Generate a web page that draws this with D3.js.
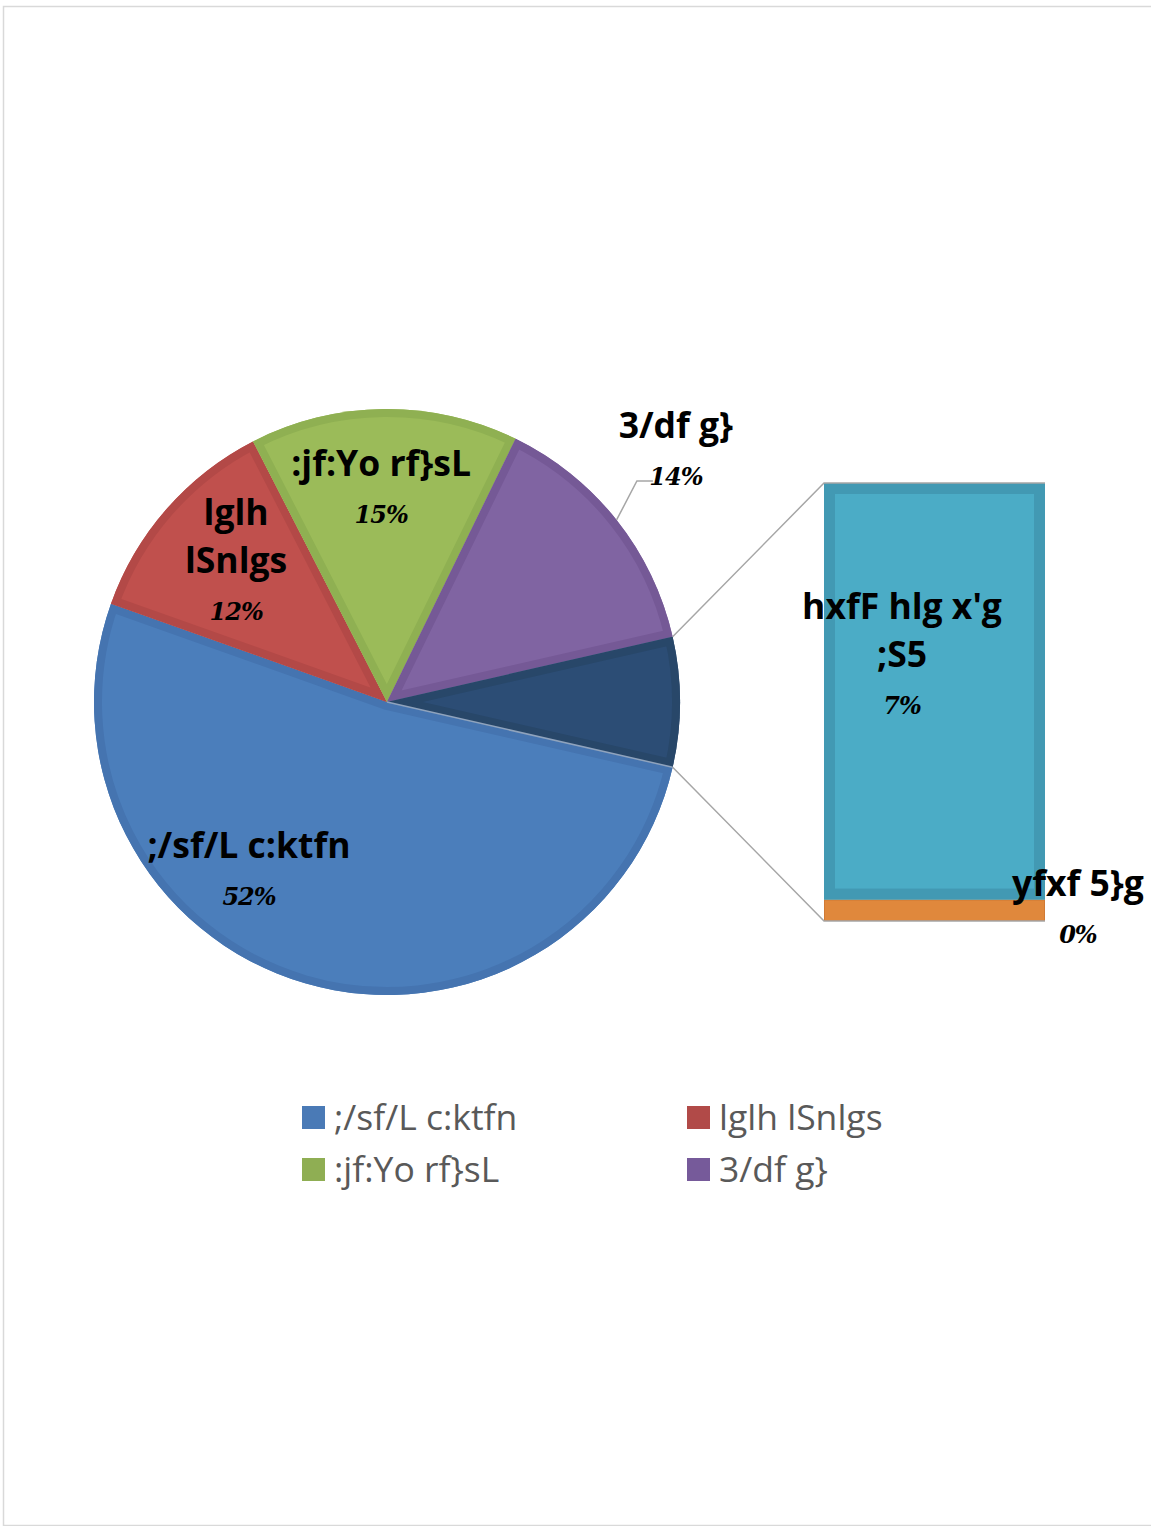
<!DOCTYPE html>
<html><head><meta charset="utf-8">
<script src="https://cdn.jsdelivr.net/npm/d3@7"></script>
<style>
html,body{margin:0;padding:0;background:#fff;}
svg{display:block;}
</style></head>
<body>
<svg id="chart" width="1151" height="1526"></svg>
<script>
// ---- data ----
const pieCategories = [";/sf/L c:ktfn", "lglh lSnlgs", ":jf:Yo rf}sL", "3/df g}"];
const pieValues = [51.9, 12.0, 14.8, 14.2];
const pieLabels = [[";/sf/L c:ktfn"], ["lglh", "lSnlgs"], [":jf:Yo rf}sL"], ["3/df g}"]];
const piePercents = ["52%", "12%", "15%", "14%"];
const barCategories = ["yfxf 5}g", "hxfF hlg x'g ;S5"];
const barValues = [0.35, 6.8];
const barLabels = [["yfxf 5}g"], ["hxfF hlg x'g", ";S5"]];
const barPercents = ["0%", "7%"];

// ---- styles ----
const pieFill = ["#4b7ebb", "#c0504d", "#9bbb59", "#8064a2", "#2c4d75"];
const pieEdge = ["#4574b0", "#b34947", "#8fb052", "#755996", "#284769"];
const barFill = ["#e0883c", "#4bacc6"];
const barEdge = ["#d07a35", "#4299b3"];
const legendFill = ["#4a7ab6", "#b14a48", "#8fae53", "#765a9a"];

const svg = d3.select("#chart");
const W = 1151, H = 1526;

// frame
svg.append("rect").attr("x", 3.5).attr("y", 6.5).attr("width", W + 10).attr("height", H - 7)
  .attr("fill", "#fff").attr("stroke", "#d9d9d9").attr("stroke-width", 1.5);

const cx = 387, cy = 702, R = 293;
const otherTotal = d3.sum(barValues);
const total = d3.sum(pieValues) + otherTotal;
const otherAngle = otherTotal / total * 2 * Math.PI;
const start = Math.PI / 2 + otherAngle / 2;

const pieData = pieValues.concat([otherTotal]);
const pie = d3.pie().sort(null).value(d => d).startAngle(start).endAngle(start + 2 * Math.PI);
const arcs = pie(pieData);
const arc = d3.arc().innerRadius(0).outerRadius(R);

const defs = svg.append("defs");
const g = svg.append("g").attr("transform", `translate(${cx},${cy})`);
arcs.forEach((a, i) => {
  const id = "clip" + i;
  defs.append("clipPath").attr("id", id).append("path").attr("d", arc(a));
  g.append("path").attr("d", arc(a)).attr("fill", pieFill[i]);
  g.append("path").attr("d", arc(a))
    .attr("fill", "none").attr("stroke", pieEdge[i]).attr("stroke-width", 16)
    .attr("stroke-linejoin", "round").attr("clip-path", `url(#${id})`);
});

// bar of pie
const bx0 = 824, bx1 = 1045;
const y = d3.scaleLinear().domain([0, otherTotal]).range([921, 483]);
const stack = d3.cumsum(barValues);
barValues.forEach((v, i) => {
  const top = y(stack[i]), bot = y(stack[i] - v);
  const id = "bclip" + i;
  defs.append("clipPath").attr("id", id).append("rect").attr("x", bx0).attr("y", top).attr("width", bx1 - bx0).attr("height", bot - top);
  svg.append("rect").attr("x", bx0).attr("y", top).attr("width", bx1 - bx0).attr("height", bot - top).attr("fill", barFill[i]);
  svg.append("rect").attr("x", bx0).attr("y", top).attr("width", bx1 - bx0).attr("height", bot - top)
    .attr("fill", "none").attr("stroke", barEdge[i]).attr("stroke-width", i === 0 ? 2 : 22)
    .attr("clip-path", `url(#${id})`);
});

// series lines
const oa = arcs[4];
const pTop = [cx + R * Math.sin(oa.startAngle), cy - R * Math.cos(oa.startAngle)];
const pBot = [cx + R * Math.sin(oa.endAngle), cy - R * Math.cos(oa.endAngle)];
const line = d3.line();
svg.append("path").attr("d", line([pTop, [bx0, y(otherTotal)], [bx1, y(otherTotal)]]))
  .attr("fill", "none").attr("stroke", "#a6a6a6").attr("stroke-width", 1.5);
svg.append("path").attr("d", line([pBot, [bx0, y(0)], [bx1, y(0)]]))
  .attr("fill", "none").attr("stroke", "#a6a6a6").attr("stroke-width", 1.5);
svg.append("path").attr("d", line([[cx, cy], pBot]))
  .attr("fill", "none").attr("stroke", "#8fa3bd").attr("stroke-width", 1.5);

// labels
const nameFont = "'Open Sans', 'Noto Sans', sans-serif";
const pctFont = "'DejaVu Serif', serif";
function drawLabel(x, yb, lines, pct) {
  const t = svg.append("g");
  lines.forEach((s, k) => {
    t.append("text").attr("x", x).attr("y", yb + k * 48).attr("text-anchor", "middle")
      .attr("font-family", nameFont).attr("font-weight", 700).attr("font-size", 35.5)
      .attr("fill", "#000").text(s);
  });
  t.append("text").attr("x", x).attr("y", yb + (lines.length - 1) * 48 + 47).attr("text-anchor", "middle")
    .attr("font-family", pctFont).attr("font-style", "italic").attr("font-weight", 700).attr("font-size", 24)
    .attr("letter-spacing", -1).attr("fill", "#000").text(pct);
}
// label anchors as fractions of the radius from the pie centre
const pieLabelPos = [[-0.471, 0.532], [-0.515, -0.604], [-0.020, -0.771], [0.986, -0.901]];
arcs.slice(0, 4).forEach((a, i) => {
  drawLabel(cx + pieLabelPos[i][0] * R, cy + pieLabelPos[i][1] * R, pieLabels[i], piePercents[i]);
});
// leader line for the outside label
{
  const a = arcs[3];
  const m = (a.startAngle + a.endAngle) / 2;
  const p0 = [cx + R * Math.sin(m), cy - R * Math.cos(m)];
  const lx = cx + pieLabelPos[3][0] * R, ly = cy + pieLabelPos[3][1] * R + 47;
  svg.append("path").attr("d", line([p0, [lx - 39, ly - 4], [lx - 23, ly - 4]]))
    .attr("fill", "none").attr("stroke", "#a6a6a6").attr("stroke-width", 1.5);
}
// bar labels as fractions of bar width/height
const barLabelPos = [[1.149, 0.942], [0.353, 0.311]];
barValues.forEach((v, i) => {
  drawLabel(bx0 + barLabelPos[i][0] * (bx1 - bx0), 483 + barLabelPos[i][1] * (921 - 483), barLabels[i], barPercents[i]);
});

// legend
const legCols = [302, 687], legRows = [1106, 1158];
pieCategories.forEach((c, i) => {
  const lx = legCols[i % 2], ly = legRows[Math.floor(i / 2)];
  svg.append("rect").attr("x", lx).attr("y", ly).attr("width", 23).attr("height", 23).attr("fill", legendFill[i]);
  svg.append("text").attr("x", lx + 32).attr("y", ly + 24)
    .attr("font-family", nameFont).attr("font-size", 35.5).attr("fill", "#595959").text(c);
});
</script>
</body></html>
